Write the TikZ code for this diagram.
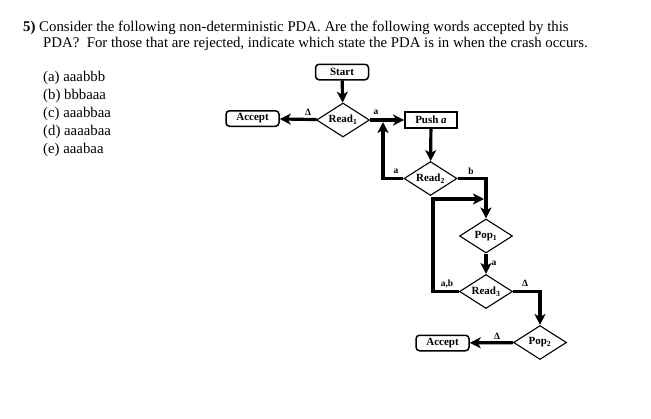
\documentclass[tikz,border=0pt]{standalone}
\usepackage{fontspec}
\setmainfont{Liberation Serif}
\usetikzlibrary{arrows.meta,shapes.geometric}
\tikzset{
  rbox/.style={draw, line width=1.5pt, rounded corners=3.5pt, minimum width=53pt, minimum height=15.5pt, inner sep=0pt, font=\fontsize{11}{12}\selectfont\bfseries},
  sbox/.style={draw, line width=1.7pt, minimum width=52pt, minimum height=16pt, inner sep=0pt, font=\fontsize{11}{12}\selectfont\bfseries},
  dia/.style={draw, diamond, line width=1.1pt, shape aspect=1.5, minimum width=53pt, minimum height=34pt, inner sep=0pt, font=\fontsize{11}{12}\selectfont\bfseries},
  conn/.style={line width=3.2pt, -{Stealth[length=11pt,width=11pt,inset=3pt]}},
  tlabel/.style={font=\fontsize{9.5}{10}\selectfont\bfseries, inner sep=0pt},
  body/.style={anchor=base west, inner sep=0pt, font=\fontsize{14.8}{18}\selectfont}
}
\begin{document}
\begin{tikzpicture}[x=1pt,y=-1pt]
\useasboundingbox[fill=white] (0,0) rectangle (651,418);
% question text
\node[body] (q1) at (23,31) {\textbf{5)} Consider the following non-deterministic PDA. Are the following words accepted by this};
\node[body] (q2) at (43,47) {PDA?\ \ For those that are rejected, indicate which state the PDA is in when the crash occurs.};
\node[body] (wa) at (43,81) {(a) aaabbb};
\node[body] (wb) at (43,99) {(b) bbbaaa};
\node[body] (wc) at (43,117) {(c) aaabbaa};
\node[body] (wd) at (43,135) {(d) aaaabaa};
\node[body] (we) at (43,153) {(e) aaabaa};
% nodes
\node[rbox] (start) at (342,72) {Start};
\node[dia] (r1) at (343,120) {Read\textsubscript{1}};
\node[rbox] (acc1) at (252.5,118.5) {Accept};
\node[sbox] (push) at (431,120) {Push \textit{a}};
\node[dia] (r2) at (430.5,178.5) {Read\textsubscript{2}};
\node[dia] (p1) at (486,236) {Pop\textsubscript{1}};
\node[dia] (r3) at (486,291.5) {Read\textsubscript{3}};
\node[dia] (p2) at (540,342.5) {Pop\textsubscript{2}};
\node[rbox] (acc2) at (442.5,343) {Accept};
\coordinate (j1) at (383,122);
\coordinate (j2) at (484,199);
% connectors
\draw[conn] (start) -- (r1);
\draw[conn] (r1) -- (acc1);
\draw[conn] (r1) -- (push);
\draw[conn] (push) -- (r2);
\draw[conn] (r2.west) -| (j1);
\draw[conn] (r2.east) -| (p1.north);
\draw[conn] (r3.west) -| (433,199) -- (j2);
\draw[conn] (p1) -- (r3);
\draw[conn] (r3.east) -| (p2.north);
\draw[conn] (p2) -- (acc2);
% labels
\node[tlabel] (l1) at (308,112.5) {Δ};
\node[tlabel] (l2) at (376,112.5) {a};
\node[tlabel] (l3) at (396,171.5) {a};
\node[tlabel] (l4) at (471,171.5) {b};
\node[tlabel] (l5) at (494,263) {a};
\node[tlabel] (l6) at (447,284) {a,b};
\node[tlabel] (l7) at (525,283.5) {Δ};
\node[tlabel] (l8) at (497,336.5) {Δ};
\end{tikzpicture}
\end{document}
